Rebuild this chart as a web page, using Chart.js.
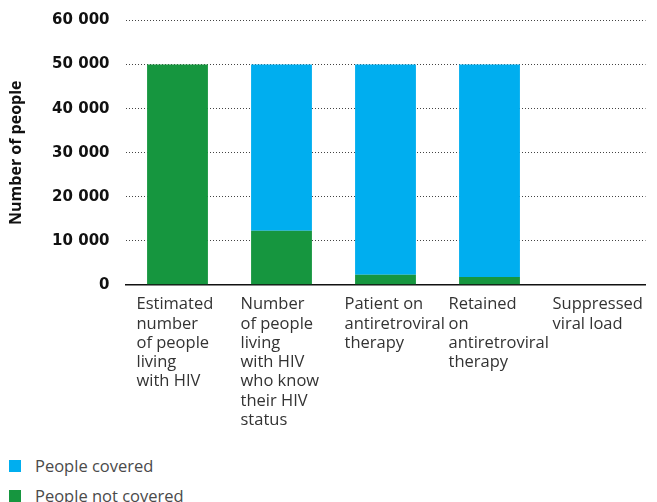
<!DOCTYPE html>
<html>
<head>
<meta charset="utf-8">
<script src="https://cdn.jsdelivr.net/npm/chart.js@4"></script>
<style>
    body { margin: 0; background: #fff; }
    #wrap { position: relative; width: 657px; height: 502px; overflow: hidden; }
    #chart { position: absolute; left: 0; top: 0; }
    .legend-item { position: absolute; left: 9px; height: 14px; font: 16.5px 'Open Sans', sans-serif; color: #4a4a4a; }
    .legend-box { position: absolute; left: 0; top: 1px; width: 12px; height: 12px; }
    .legend-text { position: absolute; left: 26px; top: -5px; white-space: nowrap; }
</style>
</head>
<body>
<div id="wrap">
    <canvas id="chart" width="657" height="440"></canvas>
    <div id="legend"></div>
</div>
<script>
// Data
const categories = [
    ['Estimated', 'number', 'of people', 'living', 'with HIV'],
    ['Number', 'of people', 'living', 'with HIV', 'who know', 'their HIV', 'status'],
    ['Patient on', 'antiretroviral', 'therapy'],
    ['Retained', 'on', 'antiretroviral', 'therapy'],
    ['Suppressed', 'viral load']
];
const notCovered = [50000, 12300, 2300, 1800, 0];
const covered = [0, 37700, 47700, 48200, 0];
const yTicks = [0, 10000, 20000, 30000, 40000, 50000, 60000];

const BLUE = '#00aeef';
const GREEN = '#16963f';

// Formatting "60 000"
const formatNum = (v) => String(v).replace(/\B(?=(\d{3})+(?!\d))/g, ' ');

const chart = new Chart(document.getElementById('chart'), {
    type: 'bar',
    data: {
        labels: categories,
        datasets: [
            { label: 'People not covered', data: notCovered, backgroundColor: GREEN },
            { label: 'People covered', data: covered, backgroundColor: BLUE }
        ]
    },
    options: {
        responsive: false,
        animation: false,
        layout: { padding: { left: 3, right: 11.5, top: 20.5, bottom: 8 } },
        datasets: { bar: { barPercentage: 0.585, categoryPercentage: 1 } },
        plugins: {
            legend: { display: false },
            tooltip: { enabled: false }
        },
        scales: {
            x: {
                stacked: true,
                grid: { display: false },
                border: { display: true, color: '#111', width: 1.5 },
                afterFit: (scale) => { scale.paddingLeft = 0; scale.paddingRight = 0; },
                ticks: {
                    autoSkip: false,
                    maxRotation: 0,
                    align: 'start',
                    labelOffset: -41,
                    padding: 2,
                    color: '#333',
                    font: { family: "'Open Sans', sans-serif", size: 16.5, lineHeight: 1.17 }
                }
            },
            y: {
                stacked: true,
                min: yTicks[0],
                max: yTicks[yTicks.length - 1],
                afterBuildTicks: (scale) => { scale.ticks = yTicks.map(v => ({ value: v })); },
                afterFit: (scale) => {
                    scale.width = 122.5;
                    scale.paddingTop = 0;
                    scale.paddingBottom = 0;
                },
                grid: {
                    drawTicks: false,
                    color: (ctx) => ctx.tick && ctx.tick.value === 0 ? 'rgba(0,0,0,0)' : '#444',
                    lineWidth: 1
                },
                border: { display: false, dash: [1, 2] },
                ticks: {
                    padding: 16,
                    color: '#111',
                    font: { family: "'DejaVu Sans', sans-serif", size: 15, weight: 'bold' },
                    callback: (v) => formatNum(v)
                },
                title: {
                    display: true,
                    text: 'Number of people',
                    color: '#111',
                    font: { family: "'Open Sans', sans-serif", size: 16, weight: 'bold' }
                }
            }
        }
    }
});

// Legend (covered first, as in the reference)
const legend = document.getElementById('legend');
const legendTops = [459, 489];
chart.data.datasets.slice().reverse().forEach((ds, i) => {
    const item = document.createElement('div');
    item.className = 'legend-item';
    item.style.top = legendTops[i] + 'px';
    item.innerHTML = `<span class="legend-box" style="background:${ds.backgroundColor}"></span><span class="legend-text">${ds.label}</span>`;
    legend.appendChild(item);
});
</script>
</body>
</html>
